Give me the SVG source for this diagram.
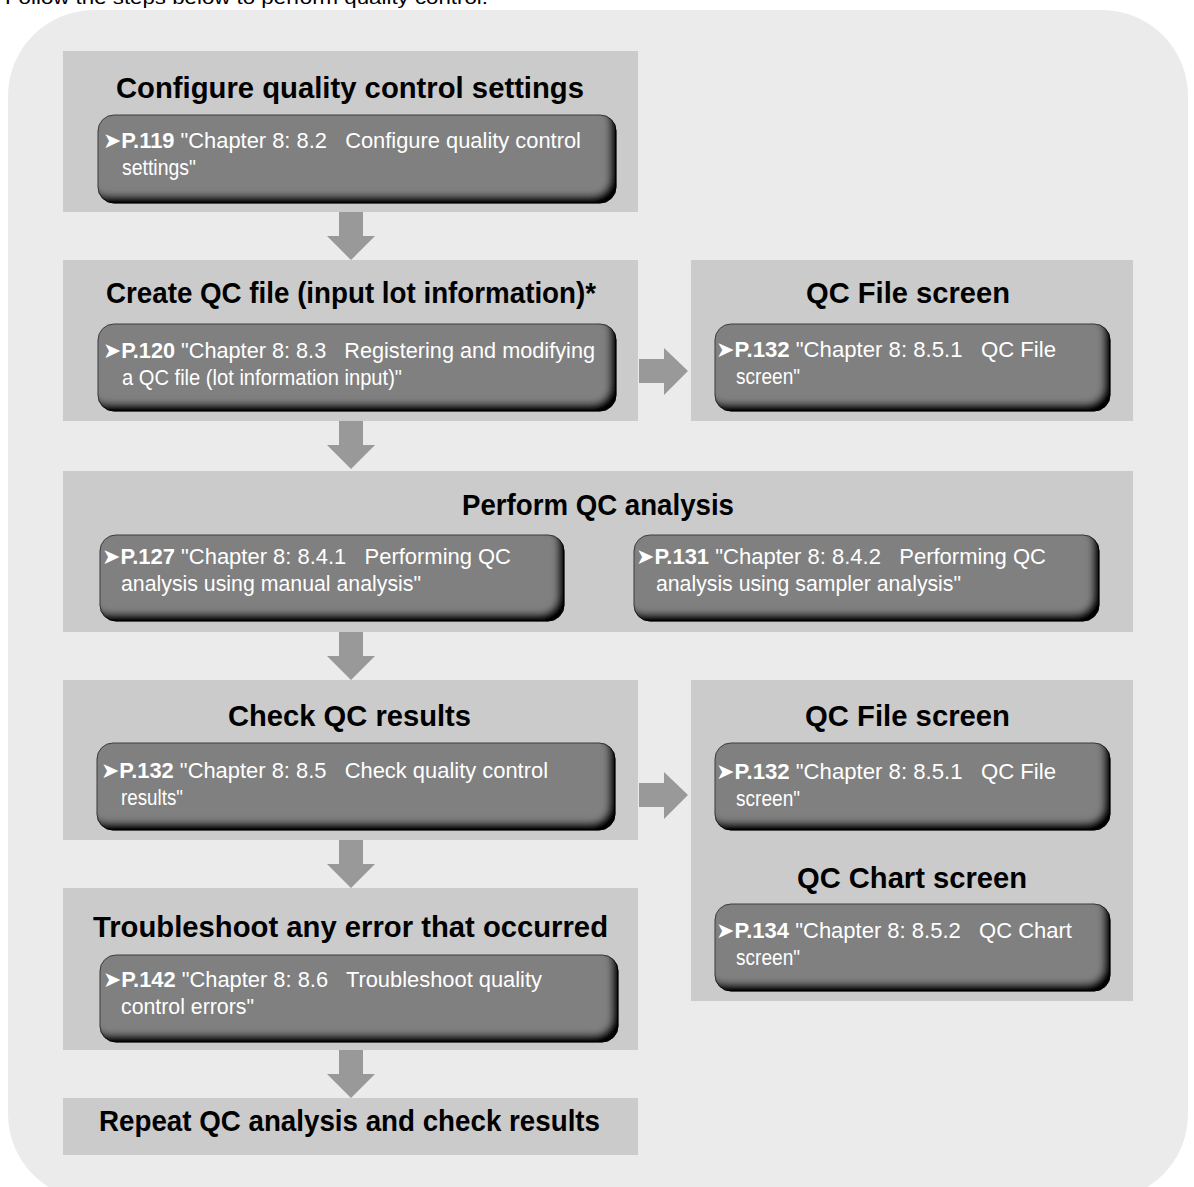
<svg xmlns="http://www.w3.org/2000/svg" width="1194" height="1187" viewBox="0 0 1194 1187">
<defs>
<style>
.bg{fill:#ebebeb}
.box{fill:#cbcbcb}
.inner{fill:#808080;stroke:#3c3c3c;stroke-width:1;filter:url(#bevel)}
.title{font-family:"Liberation Sans","DejaVu Sans",sans-serif;font-weight:bold;font-size:30px;fill:#000;text-anchor:start}
.ref{font-family:"Liberation Sans","DejaVu Sans",sans-serif;font-size:22px;fill:#fff}
.ref .b{font-weight:bold}
.arr{fill:#999999}
.top{font-family:"Liberation Sans","DejaVu Sans",sans-serif;font-size:19px;fill:#000}
</style>
<filter id="bevel" x="-5%" y="-10%" width="110%" height="120%">
<feOffset in="SourceAlpha" dx="-7" dy="-8" result="off"/>
<feGaussianBlur in="off" stdDeviation="3" result="blur"/>
<feComposite in="SourceAlpha" in2="blur" operator="out" result="rim"/>
<feFlood flood-color="#000"/>
<feComposite in2="rim" operator="in" result="shadow"/>
<feMerge><feMergeNode in="SourceGraphic"/><feMergeNode in="shadow"/></feMerge>
</filter>
</defs>
<rect width="1194" height="1187" fill="#fff"/>
<text class="top" x="5" y="4" textLength="483" lengthAdjust="spacingAndGlyphs">Follow the steps below to perform quality control.</text>
<rect class="bg" x="8" y="10" width="1180" height="1190" rx="86"/>

<g id="connectors">
<polygon class="arr" points="339,212 363,212 363,236 375,236 351,260 327,236 339,236"/>
<polygon class="arr" points="339,421 363,421 363,445 375,445 351,469 327,445 339,445"/>
<polygon class="arr" points="339,632 363,632 363,656 375,656 351,680 327,656 339,656"/>
<polygon class="arr" points="339,840 363,840 363,864 375,864 351,888 327,864 339,864"/>
<polygon class="arr" points="339,1050 363,1050 363,1074 375,1074 351,1098 327,1074 339,1074"/>
<polygon class="arr" points="639,359 664,359 664,348 688,371 664,395 664,383 639,383"/>
<polygon class="arr" points="639,783 664,783 664,772 688,795 664,819 664,807 639,807"/>
</g>

<g id="n1">
<rect class="box" x="63" y="51" width="575" height="161"/>
<text class="title" x="116" y="98" textLength="468" lengthAdjust="spacingAndGlyphs">Configure quality control settings</text>
<rect class="inner" x="98" y="115" width="518" height="88" rx="16"/>
<text class="ref" x="103" y="148" textLength="478" lengthAdjust="spacingAndGlyphs" xml:space="preserve">➤<tspan class="b">P.119</tspan> "Chapter 8: 8.2   Configure quality control</text>
<text class="ref" x="122" y="175" textLength="74" lengthAdjust="spacingAndGlyphs">settings"</text>
</g>

<g id="n2">
<rect class="box" x="63" y="260" width="575" height="161"/>
<text class="title" x="106" y="303" textLength="490" lengthAdjust="spacingAndGlyphs">Create QC file (input lot information)*</text>
<rect class="inner" x="98" y="324" width="518" height="87" rx="16"/>
<text class="ref" x="103" y="358" textLength="492" lengthAdjust="spacingAndGlyphs" xml:space="preserve">➤<tspan class="b">P.120</tspan> "Chapter 8: 8.3   Registering and modifying</text>
<text class="ref" x="122" y="385" textLength="280" lengthAdjust="spacingAndGlyphs">a QC file (lot information input)"</text>
</g>

<g id="n2r">
<rect class="box" x="691" y="260" width="442" height="161"/>
<text class="title" x="806" y="303" textLength="204" lengthAdjust="spacingAndGlyphs">QC File screen</text>
<rect class="inner" x="715" y="324" width="395" height="87" rx="16"/>
<text class="ref" x="716" y="357" textLength="340" lengthAdjust="spacingAndGlyphs" xml:space="preserve">➤<tspan class="b">P.132</tspan> "Chapter 8: 8.5.1   QC File</text>
<text class="ref" x="736" y="384" textLength="64" lengthAdjust="spacingAndGlyphs">screen"</text>
</g>

<g id="n3">
<rect class="box" x="63" y="471" width="1070" height="161"/>
<text class="title" x="462" y="515" textLength="272" lengthAdjust="spacingAndGlyphs">Perform QC analysis</text>
<rect class="inner" x="100" y="535" width="464" height="86" rx="16"/>
<text class="ref" x="102" y="564" textLength="409" lengthAdjust="spacingAndGlyphs" xml:space="preserve">➤<tspan class="b">P.127</tspan> "Chapter 8: 8.4.1   Performing QC</text>
<text class="ref" x="121" y="591" textLength="300" lengthAdjust="spacingAndGlyphs">analysis using manual analysis"</text>
<rect class="inner" x="634" y="535" width="465" height="86" rx="16"/>
<text class="ref" x="636" y="564" textLength="410" lengthAdjust="spacingAndGlyphs" xml:space="preserve">➤<tspan class="b">P.131</tspan> "Chapter 8: 8.4.2   Performing QC</text>
<text class="ref" x="656" y="591" textLength="305" lengthAdjust="spacingAndGlyphs">analysis using sampler analysis"</text>
</g>

<g id="n4">
<rect class="box" x="63" y="680" width="575" height="160"/>
<text class="title" x="228" y="726" textLength="243" lengthAdjust="spacingAndGlyphs">Check QC results</text>
<rect class="inner" x="97" y="743" width="518" height="87" rx="16"/>
<text class="ref" x="101" y="778" textLength="447" lengthAdjust="spacingAndGlyphs" xml:space="preserve">➤<tspan class="b">P.132</tspan> "Chapter 8: 8.5   Check quality control</text>
<text class="ref" x="121" y="805" textLength="62" lengthAdjust="spacingAndGlyphs">results"</text>
</g>

<g id="n4r">
<rect class="box" x="691" y="680" width="442" height="321"/>
<text class="title" x="805" y="726" textLength="205" lengthAdjust="spacingAndGlyphs">QC File screen</text>
<rect class="inner" x="715" y="743" width="395" height="87" rx="16"/>
<text class="ref" x="716" y="779" textLength="340" lengthAdjust="spacingAndGlyphs" xml:space="preserve">➤<tspan class="b">P.132</tspan> "Chapter 8: 8.5.1   QC File</text>
<text class="ref" x="736" y="806" textLength="64" lengthAdjust="spacingAndGlyphs">screen"</text>
<text class="title" x="797" y="888" textLength="230" lengthAdjust="spacingAndGlyphs">QC Chart screen</text>
<rect class="inner" x="715" y="904" width="395" height="87" rx="16"/>
<text class="ref" x="716" y="938" textLength="356" lengthAdjust="spacingAndGlyphs" xml:space="preserve">➤<tspan class="b">P.134</tspan> "Chapter 8: 8.5.2   QC Chart</text>
<text class="ref" x="736" y="965" textLength="64" lengthAdjust="spacingAndGlyphs">screen"</text>
</g>

<g id="n5">
<rect class="box" x="63" y="888" width="575" height="162"/>
<text class="title" x="93" y="937" textLength="515" lengthAdjust="spacingAndGlyphs">Troubleshoot any error that occurred</text>
<rect class="inner" x="100" y="955" width="518" height="87" rx="16"/>
<text class="ref" x="103" y="987" textLength="439" lengthAdjust="spacingAndGlyphs" xml:space="preserve">➤<tspan class="b">P.142</tspan> "Chapter 8: 8.6   Troubleshoot quality</text>
<text class="ref" x="121" y="1014" textLength="133" lengthAdjust="spacingAndGlyphs">control errors"</text>
</g>

<g id="n6">
<rect class="box" x="63" y="1098" width="575" height="57"/>
<text class="title" x="99" y="1131" textLength="501" lengthAdjust="spacingAndGlyphs">Repeat QC analysis and check results</text>
</g>
</svg>
